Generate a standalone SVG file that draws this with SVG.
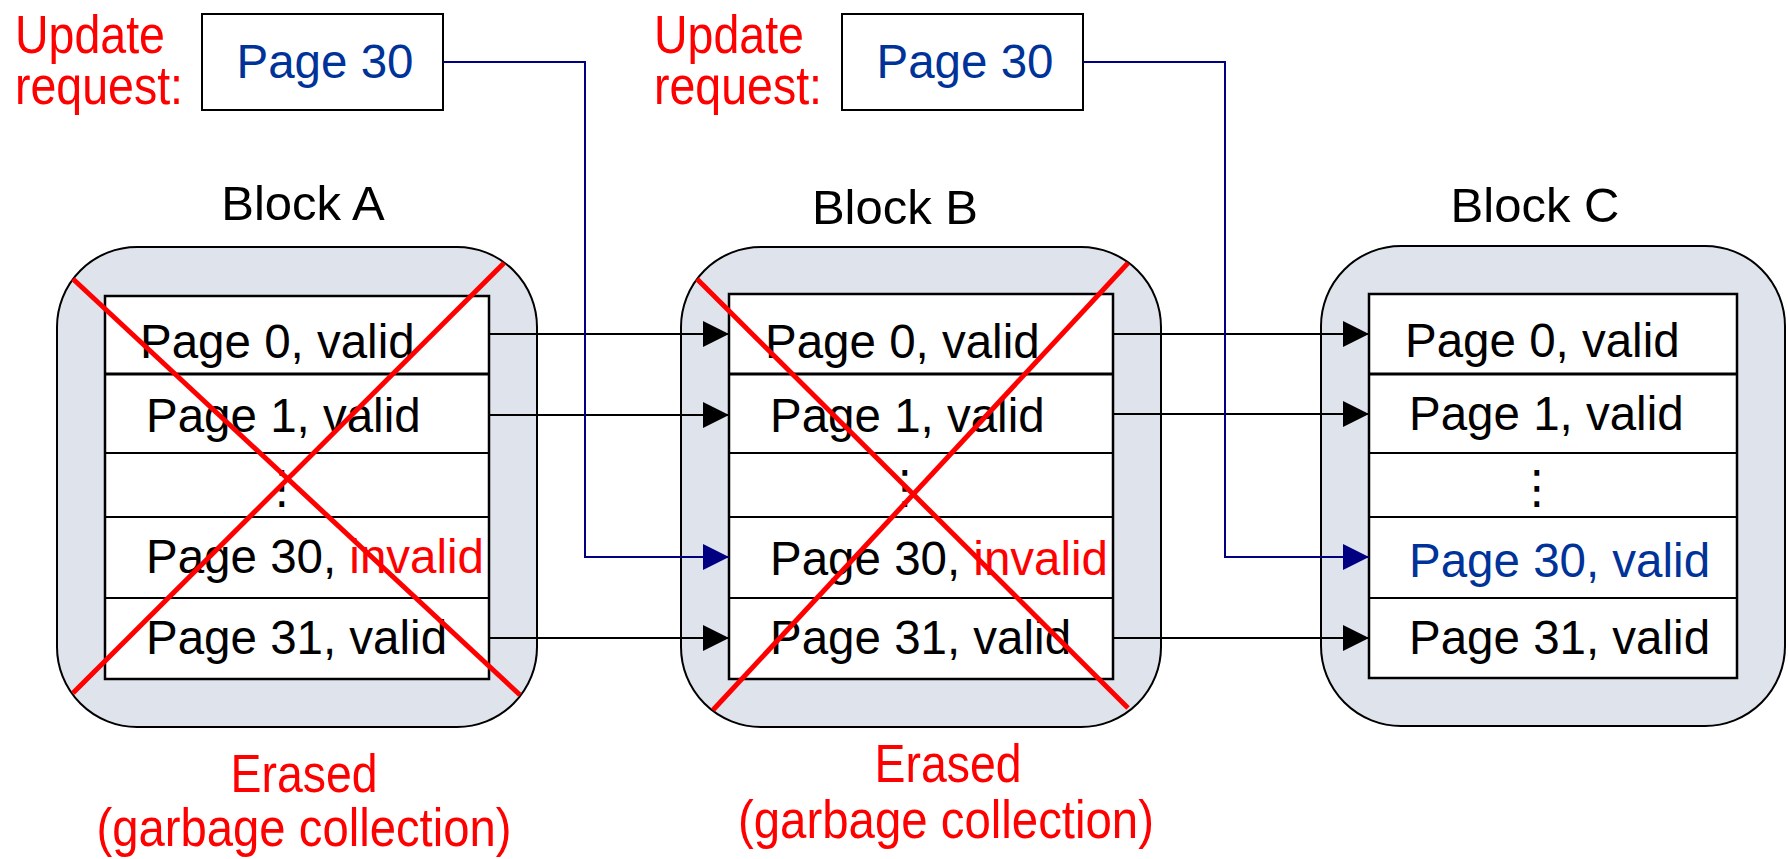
<svg xmlns="http://www.w3.org/2000/svg" width="1788" height="859" viewBox="0 0 1788 859">
<style>
text{font-family:"Liberation Sans",Arial,sans-serif;font-size:47.5px;fill:#000}
.red{fill:#ff0000}
.blue{fill:#003399}
.cond{font-size:54px}
.lbl{font-size:49px}
.outer{fill:#dfe3ec;stroke:#000;stroke-width:2}
.inner{fill:#fff;stroke:#000;stroke-width:2.5}
.div{stroke:#000;stroke-width:2}
.div0{stroke:#000;stroke-width:3}
.cross{stroke:#ff0000;stroke-width:5}
.req{fill:#fff;stroke:#000;stroke-width:2}
.conn{fill:none;stroke:#000;stroke-width:2}
.connb{fill:none;stroke:#000080;stroke-width:2}
.dots{font-family:"DejaVu Sans",sans-serif;font-size:46px;text-anchor:middle}
.mid{text-anchor:middle}
</style>
<defs>
<marker id="ab" markerUnits="userSpaceOnUse" markerWidth="26" markerHeight="26" refX="26" refY="13" orient="auto"><path d="M0,0 L26,13 L0,26 z" fill="#000"/></marker>
<marker id="abb" markerUnits="userSpaceOnUse" markerWidth="26" markerHeight="26" refX="26" refY="13" orient="auto"><path d="M0,0 L26,13 L0,26 z" fill="#000080"/></marker>
</defs>

<g id="requestA">
<text class="red cond" x="15" y="53" textLength="150" lengthAdjust="spacingAndGlyphs">Update</text>
<text class="red cond" x="15" y="104" textLength="168" lengthAdjust="spacingAndGlyphs">request:</text>
<rect class="req" x="202" y="14" width="241" height="96"/>
<text class="blue mid" x="325" y="78">Page 30</text>
</g>

<g id="requestB">
<text class="red cond" x="654" y="53" textLength="150" lengthAdjust="spacingAndGlyphs">Update</text>
<text class="red cond" x="654" y="104" textLength="168" lengthAdjust="spacingAndGlyphs">request:</text>
<rect class="req" x="842" y="14" width="241" height="96"/>
<text class="blue mid" x="965" y="78">Page 30</text>
</g>

<g id="blockA">
<text class="mid lbl" x="303" y="220">Block A</text>
<rect class="outer" x="57" y="247" width="480" height="480" rx="80" ry="80"/>
<rect class="inner" x="105" y="296" width="384" height="383"/>
<line class="div0" x1="105" y1="374" x2="489" y2="374"/>
<line class="div" x1="105" y1="453" x2="489" y2="453"/>
<line class="div" x1="105" y1="517" x2="489" y2="517"/>
<line class="div" x1="105" y1="598" x2="489" y2="598"/>
<text x="140" y="358">Page 0, valid</text>
<text x="146" y="432">Page 1, valid</text>
<text class="dots" x="282" y="503">⋮</text>
<text x="146" y="573">Page 30, <tspan class="red">invalid</tspan></text>
<text x="146" y="654">Page 31, valid</text>
<line class="cross" x1="73" y1="279" x2="520" y2="695"/>
<line class="cross" x1="504" y1="263" x2="73" y2="693"/>
<text class="red cond mid" x="304" y="792" textLength="147" lengthAdjust="spacingAndGlyphs">Erased</text>
<text class="red cond mid" x="304" y="846" textLength="415" lengthAdjust="spacingAndGlyphs">(garbage collection)</text>
</g>

<g id="blockB">
<text class="mid lbl" x="895" y="224">Block B</text>
<rect class="outer" x="681" y="247" width="480" height="480" rx="80" ry="80"/>
<rect class="inner" x="729" y="294" width="384" height="385"/>
<line class="div0" x1="729" y1="374" x2="1113" y2="374"/>
<line class="div" x1="729" y1="453" x2="1113" y2="453"/>
<line class="div" x1="729" y1="517" x2="1113" y2="517"/>
<line class="div" x1="729" y1="598" x2="1113" y2="598"/>
<text x="765" y="358">Page 0, valid</text>
<text x="770" y="432">Page 1, valid</text>
<text class="dots" x="905" y="503">⋮</text>
<text x="770" y="575">Page 30, <tspan class="red">invalid</tspan></text>
<text x="770" y="654">Page 31, valid</text>
<line class="cross" x1="697" y1="279" x2="1128" y2="708"/>
<line class="cross" x1="1128" y1="263" x2="713" y2="710"/>
<text class="red cond mid" x="948" y="782" textLength="147" lengthAdjust="spacingAndGlyphs">Erased</text>
<text class="red cond mid" x="946" y="838" textLength="416" lengthAdjust="spacingAndGlyphs">(garbage collection)</text>
</g>

<g id="blockC">
<text class="mid lbl" x="1535" y="222">Block C</text>
<rect class="outer" x="1321" y="246" width="464" height="480" rx="80" ry="80"/>
<rect class="inner" x="1369" y="294" width="368" height="384"/>
<line class="div0" x1="1369" y1="374" x2="1737" y2="374"/>
<line class="div" x1="1369" y1="453" x2="1737" y2="453"/>
<line class="div" x1="1369" y1="517" x2="1737" y2="517"/>
<line class="div" x1="1369" y1="598" x2="1737" y2="598"/>
<text x="1405" y="357">Page 0, valid</text>
<text x="1409" y="430">Page 1, valid</text>
<text class="dots" x="1537" y="503">⋮</text>
<text class="blue" x="1409" y="577">Page 30, valid</text>
<text x="1409" y="654">Page 31, valid</text>
</g>

<g id="connectors">
<line class="conn" x1="489" y1="334" x2="729" y2="334" marker-end="url(#ab)"/>
<line class="conn" x1="489" y1="415" x2="729" y2="415" marker-end="url(#ab)"/>
<line class="conn" x1="489" y1="638" x2="729" y2="638" marker-end="url(#ab)"/>
<line class="conn" x1="1113" y1="334" x2="1369" y2="334" marker-end="url(#ab)"/>
<line class="conn" x1="1113" y1="414" x2="1369" y2="414" marker-end="url(#ab)"/>
<line class="conn" x1="1113" y1="638" x2="1369" y2="638" marker-end="url(#ab)"/>
<polyline class="connb" points="443,62 585,62 585,557 729,557" marker-end="url(#abb)"/>
<polyline class="connb" points="1083,62 1225,62 1225,557 1369,557" marker-end="url(#abb)"/>
</g>
</svg>
